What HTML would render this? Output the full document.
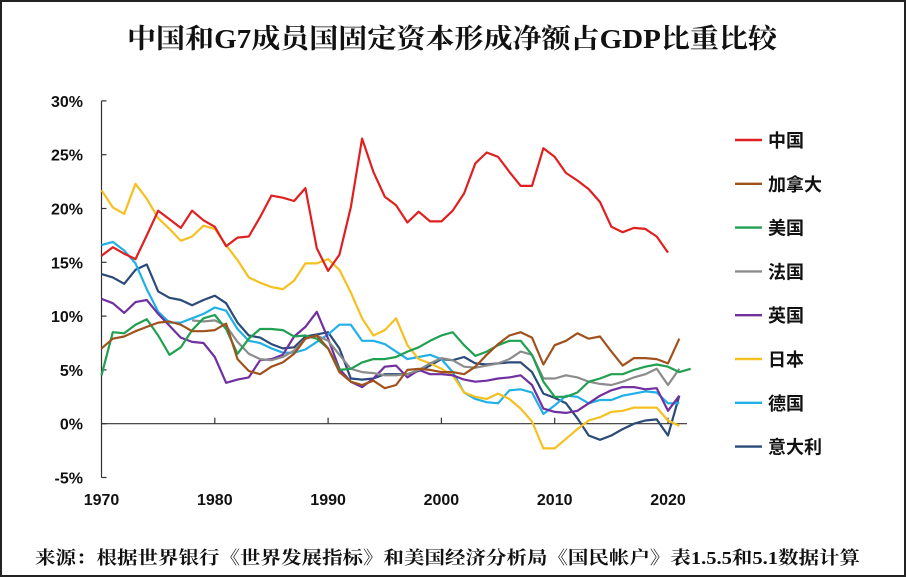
<!DOCTYPE html>
<html><head><meta charset="utf-8"><style>
html,body{margin:0;padding:0;background:#fff}
#wrap{position:relative;width:906px;height:577px;box-sizing:border-box;border:2px solid #222;background:#fff;overflow:hidden}
svg{position:absolute;left:0;top:0}
</style></head><body>
<div id="wrap">
<svg id="chart" width="906" height="577">
<text x="125" y="46" textLength="650" lengthAdjust="spacingAndGlyphs" font-family="'Liberation Serif','Noto Serif CJK SC',serif" font-weight="bold" font-size="27" fill="#111">中国和G7成员国固定资本形成净额占GDP比重比较</text>
<text x="33" y="562" textLength="825" lengthAdjust="spacingAndGlyphs" font-family="'Liberation Serif','Noto Serif CJK SC',serif" font-weight="bold" font-size="18" fill="#111">来源：根据世界银行《世界发展指标》和美国经济分析局《国民帐户》表1.5.5和5.1数据计算</text>
</svg>
</div>
<script>
const years0 = 1970;
const yTicks = [30,25,20,15,10,5,0,-5];
const xTicks = [1970,1980,1990,2000,2010,2020];
const seriesNames = ["中国","加拿大","美国","法国","英国","日本","德国","意大利"];
const seriesColors = ["#e02020","#a0521d","#20a050","#8c8c8c","#7030a0","#f5c020","#20b0e8","#2a4a78"];
const china = [15.6,16.4,15.8,15.3,17.5,19.8,19.0,18.2,19.8,18.9,18.3,16.5,17.3,17.4,19.2,21.2,21.0,20.7,21.9,16.3,14.2,15.7,20.1,26.5,23.4,21.1,20.3,18.7,19.7,18.8,18.8,19.8,21.4,24.2,25.2,24.8,23.4,22.1,22.1,25.6,24.8,23.3,22.6,21.8,20.6,18.3,17.8,18.2,18.1,17.4,15.9];
const canada = [7.0,7.9,8.1,8.6,9.0,9.4,9.5,9.2,8.6,8.6,8.7,9.3,6.0,4.9,4.6,5.3,5.7,6.5,7.9,8.2,7.0,4.8,3.9,3.6,4.0,3.3,3.6,5.0,5.1,5.0,4.8,4.8,4.6,5.3,6.4,7.4,8.2,8.5,8.0,5.5,7.3,7.7,8.4,7.9,8.1,6.7,5.4,6.1,6.1,6.0,5.6,7.9];
const usa = [4.5,8.5,8.4,9.2,9.7,8.2,6.4,7.1,8.7,9.8,10.1,8.8,6.5,7.9,8.8,8.8,8.7,8.1,8.2,7.9,7.0,5.0,5.1,5.7,6.0,6.0,6.2,6.7,7.1,7.7,8.2,8.5,7.3,6.3,6.7,7.3,7.7,7.7,6.4,3.9,2.5,2.5,2.9,3.9,4.2,4.6,4.6,5.0,5.3,5.5,5.3,4.8,5.1];
const franceStart = 1978;
const france = [9.6,9.5,9.6,9.1,7.6,6.5,6.0,5.9,6.2,6.8,7.9,8.2,7.7,6.4,5.1,4.8,4.7,4.5,4.5,4.6,5.0,5.6,6.1,5.9,5.3,5.2,5.4,5.6,6.0,6.7,6.4,4.2,4.2,4.5,4.3,3.9,3.7,3.6,3.9,4.3,4.6,5.1,3.6,5.1];
const uk = [11.6,11.2,10.3,11.3,11.5,10.2,9.1,8.0,7.6,7.5,6.2,3.8,4.1,4.3,5.9,6.0,6.4,8.1,9.0,10.4,7.9,5.1,3.9,3.4,4.2,5.3,5.4,4.3,5.0,4.6,4.6,4.5,4.1,3.9,4.0,4.2,4.3,4.5,3.6,1.4,1.1,1.0,1.2,1.9,2.6,3.1,3.4,3.4,3.2,3.3,1.2,2.6];
const japan = [21.7,20.1,19.5,22.3,20.9,19.1,18.1,17.0,17.4,18.4,18.1,16.6,15.2,13.6,13.1,12.7,12.5,13.3,14.9,14.9,15.3,14.3,12.2,9.8,8.2,8.7,9.8,7.3,6.0,5.6,5.1,4.5,2.9,2.5,2.3,2.8,2.3,1.4,0.2,-2.3,-2.3,-1.4,-0.5,0.3,0.6,1.1,1.2,1.5,1.5,1.5,0.3,-0.2];
const germany = [16.6,16.9,16.1,14.9,12.5,10.4,9.4,9.4,9.8,10.2,10.8,10.5,8.8,7.7,7.5,7.0,6.6,6.6,6.9,7.6,8.3,9.2,9.2,7.7,7.7,7.4,6.7,6.0,6.2,6.4,6.0,4.8,2.9,2.3,2.0,1.9,3.1,3.2,2.9,0.9,1.7,2.6,2.5,1.9,2.2,2.2,2.6,2.8,3.0,2.9,1.9,1.9];
const italy = [13.9,13.6,13.0,14.3,14.8,12.3,11.7,11.5,11.0,11.5,11.9,11.2,9.4,8.2,8.0,7.4,7.0,7.1,8.1,8.3,8.5,7.0,4.2,4.1,4.2,4.6,4.6,4.6,4.9,5.4,6.0,5.9,6.2,5.6,5.5,5.6,5.7,5.7,4.8,2.8,2.4,1.9,0.5,-1.1,-1.5,-1.1,-0.5,0.0,0.3,0.4,-1.1,2.6];
const allSeries = [china,canada,usa,france,uk,japan,germany,italy];
const seriesStart = [1970,1970,1970,franceStart,1970,1970,1970,1970];
const seriesKeys = ["china","canada","usa","france","uk","japan","germany","italy"];

const X0=99.5, XW=11.33, Y0=421.7, YU=10.76;
const xs = yr => X0 + (yr-years0)*XW;
const ys = v => Y0 - v*YU;
const svg = document.getElementById('chart');
const NS='http://www.w3.org/2000/svg';
function mk(tag, attrs){const e=document.createElementNS(NS,tag);for(const k in attrs)e.setAttribute(k,attrs[k]);svg.appendChild(e);return e;}
const FF="'Liberation Sans','Noto Sans CJK SC',sans-serif";

const ya = mk('line',{x1:X0,y1:ys(30),x2:X0,y2:ys(-5),stroke:'#333','stroke-width':1.2});


yTicks.forEach(t=>{
  const tk=mk('line',{x1:X0,y1:ys(t),x2:X0+5,y2:ys(t),stroke:'#333','stroke-width':1.2});
  
  
  const lb=mk('text',{x:81,y:ys(t)+6,'text-anchor':'end','font-family':FF,'font-weight':'bold','font-size':16,fill:'#111'});
  lb.textContent=t+'%';
  
  
});
const xa = mk('line',{x1:X0,y1:Y0,x2:685,y2:Y0,stroke:'#333','stroke-width':1.2});


xTicks.forEach(t=>{
  if(t>1970){
    const tk=mk('line',{x1:xs(t),y1:Y0,x2:xs(t),y2:Y0-6,stroke:'#333','stroke-width':1.2});
    
    
  }
  const lb=mk('text',{x:xs(t),y:503,'text-anchor':'middle','font-family':FF,'font-weight':'bold','font-size':16,fill:'#111'});
  lb.textContent=t;
  
  
});

for(let i=allSeries.length-1;i>=0;i--){
  const d=allSeries[i].map((v,j)=>(j?'L':'M')+xs(seriesStart[i]+j).toFixed(1)+','+ys(v).toFixed(1)).join(' ');
  const p=mk('path',{d:d,fill:'none',stroke:seriesColors[i],'stroke-width':2.2,'stroke-linejoin':'round'});
  
  
}

seriesNames.forEach((n,i)=>{
  const y=138+i*43.8;
  const l=mk('line',{x1:733,y1:y,x2:760,y2:y,stroke:seriesColors[i],'stroke-width':2.4});
  
  
  const t=mk('text',{x:766,y:y+7,'font-family':FF,'font-weight':'bold','font-size':18,fill:'#111'});
  t.textContent=n;
  
  
});
</script>
</body></html>
